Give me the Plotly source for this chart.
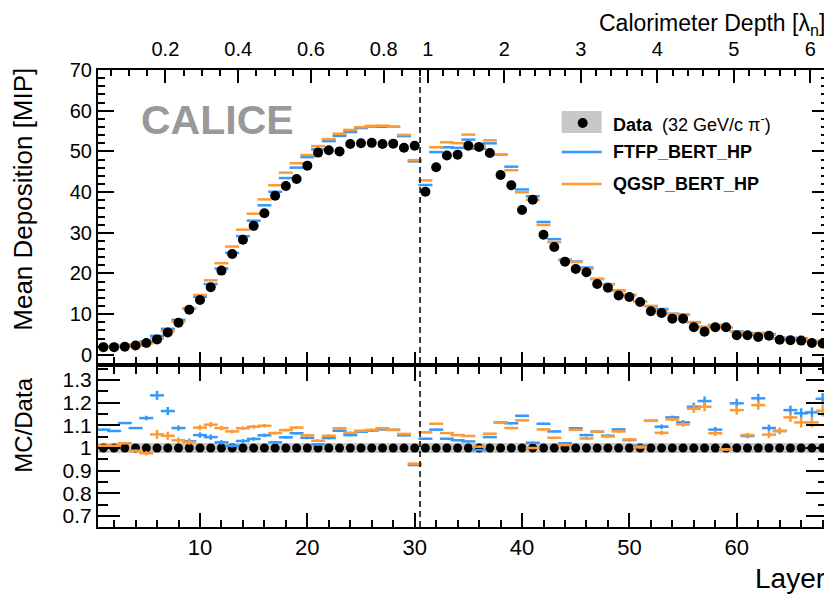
import plotly.graph_objects as go

# layer numbers and measured / simulated values
layers = list(range(1, 69))

data_mip = [1.9, 1.9, 2.0, 2.3, 2.9, 3.8, 5.5, 7.9, 11.1, 13.5,
            16.6, 20.7, 24.8, 28.3, 31.7, 34.8, 39.1, 41.5, 43.2, 46.5,
            49.7, 50.3, 50.0, 51.8, 52.0, 52.1, 51.8, 51.9, 50.9, 51.4,
            40.1, 46.1, 49.0, 49.2, 51.4, 51.1, 49.6, 44.2, 41.7, 35.6,
            38.1, 29.5, 26.5, 22.9, 21.1, 20.3, 17.4, 16.5, 14.6, 14.2,
            13.0, 10.7, 10.3, 8.9, 8.9, 6.8, 5.7, 6.8, 6.8, 4.8,
            4.8, 4.4, 4.7, 3.7, 3.6, 3.5, 2.9, 2.8]

ratio_ftfp = [1.081, 1.075, 1.110, 1.088, 1.132, 1.232, 1.163, 1.088, 1.030, 1.057,
              1.048, 1.025, 1.010, 1.031, 1.040, 1.056, 1.025, 1.047, 1.065, 1.045,
              1.016, 1.044, 1.076, 1.057, 1.072, 1.077, 1.082, 1.080, 1.056, 0.925,
              1.041, 1.081, 1.041, 1.034, 1.029, 0.991, 1.048, 1.113, 1.109, 1.142,
              1.023, 1.107, 1.073, 1.021, 1.087, 1.057, 1.072, 1.054, 1.082, 1.035,
              1.009, 1.120, 1.094, 1.135, 1.113, 1.182, 1.207, 1.081, 0.994, 1.197,
              1.053, 1.219, 1.088, 1.075, 1.167, 1.153, 1.157, 1.217]

ratio_qgsp = [1.010, 1.010, 1.021, 0.988, 0.977, 1.060, 1.054, 1.034, 1.026, 1.090,
              1.103, 1.088, 1.073, 1.087, 1.094, 1.098, 1.066, 1.079, 1.090, 1.056,
              1.032, 1.054, 1.087, 1.067, 1.076, 1.080, 1.087, 1.080, 1.062, 0.931,
              1.069, 1.107, 1.066, 1.057, 1.053, 1.006, 1.063, 1.113, 1.088, 1.122,
              1.000, 1.082, 1.045, 1.013, 1.080, 1.042, 1.072, 1.051, 1.073, 1.038,
              1.003, 1.120, 1.067, 1.126, 1.104, 1.173, 1.182, 1.065, 0.994, 1.167,
              1.057, 1.189, 1.059, 1.075, 1.135, 1.113, 1.113, 1.164]

# statistical uncertainty of the MC ratio (roughly read off the crosses)
mc_err = [0.004, 0.004, 0.004, 0.004, 0.010, 0.020, 0.018, 0.012, 0.012, 0.012,
          0.012, 0.010, 0.008, 0.008, 0.008, 0.008, 0.006, 0.006, 0.006, 0.006,
          0.006, 0.006, 0.005, 0.005, 0.005, 0.005, 0.005, 0.005, 0.005, 0.005,
          0.004, 0.004, 0.004, 0.004, 0.004, 0.004, 0.004, 0.005, 0.005, 0.005,
          0.005, 0.005, 0.005, 0.005, 0.005, 0.006, 0.006, 0.006, 0.006, 0.006,
          0.006, 0.004, 0.010, 0.008, 0.010, 0.018, 0.020, 0.012, 0.006, 0.020,
          0.010, 0.020, 0.015, 0.014, 0.020, 0.022, 0.022, 0.025]
data_band = 0.02

# calorimeter depth axis (top): lambda labels
lam_major = [0.2, 0.4, 0.6, 0.8, 1, 2, 3, 4, 5, 6]
lam_labels = ["0.2", "0.4", "0.6", "0.8", "1", "2", "3", "4", "5", "6"]
lam_minor_ecal = [0.05 * i for i in range(1, 19)]
lam_minor_hcal = [1 + 0.2 * i for i in range(1, 27)]
ecal_end_layer, ecal_end_lam, hcal_layers_per_lam = 30.5, 0.9, 7.13


def lam_to_layer(lam):
    if lam <= ecal_end_lam:
        return lam * ecal_end_layer / ecal_end_lam
    return ecal_end_layer + (lam - ecal_end_lam) * hcal_layers_per_lam


mc_ftfp = [d * r for d, r in zip(data_mip, ratio_ftfp)]
mc_qgsp = [d * r for d, r in zip(data_mip, ratio_qgsp)]

BLUE = "#3399ff"
ORANGE = "#ff9933"
FONT = "Liberation Sans, Arial, sans-serif"

fig = go.Figure()

# upper panel
for vals, col in [(mc_ftfp, BLUE), (mc_qgsp, ORANGE)]:
    fig.add_trace(go.Scatter(x=layers, y=vals, mode="markers", xaxis="x", yaxis="y",
                             marker=dict(symbol="line-ew", size=10, color=col,
                                         line=dict(color=col, width=2.5))))
fig.add_trace(go.Scatter(x=layers, y=data_mip, mode="markers", xaxis="x", yaxis="y",
                         marker=dict(size=10, color="black")))
# empty trace so the top (depth) axis gets drawn
fig.add_trace(go.Scatter(x=[layers[0]], y=[data_mip[0]], mode="markers", xaxis="x3", yaxis="y",
                         marker=dict(size=1, opacity=0), hoverinfo="skip"))

# ratio panel
fig.add_trace(go.Bar(x=layers, y=[2 * data_band] * len(layers), base=[1 - data_band] * len(layers),
                     width=1, xaxis="x2", yaxis="y2",
                     marker=dict(color="#c8c8c8", line=dict(width=0))))
fig.add_trace(go.Scatter(x=layers, y=[1] * len(layers), mode="markers", xaxis="x2", yaxis="y2",
                         marker=dict(size=9, color="black")))
for vals, col in [(ratio_ftfp, BLUE), (ratio_qgsp, ORANGE)]:
    fig.add_trace(go.Scatter(x=layers, y=vals, mode="markers", xaxis="x2", yaxis="y2",
                             marker=dict(symbol="line-ew", size=10, color=col,
                                         line=dict(color=col, width=2.5)),
                             error_y=dict(type="data", array=mc_err, color=col,
                                          thickness=2.5, width=0)))

axis_common = dict(showline=True, linecolor="black", linewidth=2, showgrid=False,
                   zeroline=False, ticks="inside", tickcolor="black", tickwidth=1.5)

# the page adds an 8px body margin, so the figure is 8px smaller and shifted
OFF = 8
W, H = 832 - OFF, 594 - OFF
L, R, T, B = 98 - OFF, 2, 70 - OFF, 67


def px(x):
    return (x - OFF - L) / (W - L - R)


def py(y):
    return (H - B - (y - OFF)) / (H - T - B)


fig.update_layout(
    width=W, height=H, margin=dict(l=L, r=R, t=T, b=B),
    paper_bgcolor="white", plot_bgcolor="white", showlegend=False,
    font=dict(family=FONT, color="black", size=20), bargap=0,
    xaxis=dict(**axis_common, domain=[0, 1], anchor="y", range=[0.5, 68.5],
               tick0=0, dtick=10, ticklen=11, showticklabels=False,
               minor=dict(ticks="inside", dtick=2, ticklen=6, tickcolor="black", tickwidth=1.5)),
    xaxis3=dict(**axis_common, overlaying="x", anchor="y", side="top", range=[0.5, 68.5],
                tickmode="array", tickvals=[lam_to_layer(v) for v in lam_major],
                ticktext=lam_labels, ticklen=13, tickfont=dict(size=20), ticklabelstandoff=4,
                minor=dict(ticks="inside", tickmode="array",
                           tickvals=[lam_to_layer(v) for v in lam_minor_ecal + lam_minor_hcal],
                           ticklen=6, tickcolor="black", tickwidth=1.5)),
    yaxis=dict(**axis_common, domain=[py(363), 1], anchor="x", range=[-2, 70],
               tick0=0, dtick=10, ticklen=16, mirror="ticks", tickfont=dict(size=20),
               minor=dict(ticks="inside", dtick=2, ticklen=7, tickcolor="black", tickwidth=1.5)),
    xaxis2=dict(**axis_common, domain=[0, 1], anchor="y2", range=[0.5, 68.5],
                tick0=0, dtick=10, ticklen=14, mirror="ticks", tickfont=dict(size=22),
                minor=dict(ticks="inside", dtick=2, ticklen=7, tickcolor="black", tickwidth=1.5)),
    yaxis2=dict(**axis_common, domain=[0, py(367)], anchor="x2", range=[0.652, 1.357],
                tick0=0.7, dtick=0.1, ticklen=22, mirror="ticks", tickfont=dict(size=21),
                minor=dict(ticks="inside", dtick=0.05, ticklen=10, tickcolor="black", tickwidth=1.5)),
)

# ECAL / HCAL boundary
for xr, yr in [("x", "y domain"), ("x2", "y2 domain")]:
    fig.add_shape(type="line", xref=xr, yref=yr, x0=ecal_end_layer, x1=ecal_end_layer, y0=0, y1=1,
                  line=dict(color="black", width=1.5, dash="6px,4px"))

# hand-made legend
fig.add_shape(type="rect", xref="paper", yref="paper", x0=px(563), x1=px(603), y0=py(133), y1=py(111),
              fillcolor="#c8c8c8", line=dict(width=0))
fig.add_shape(type="circle", xref="paper", yref="paper", x0=px(579), x1=px(589), y0=py(128), y1=py(118),
              fillcolor="black", line=dict(width=0))
fig.add_shape(type="line", xref="paper", yref="paper", x0=px(563), x1=px(603), y0=py(152), y1=py(152),
              line=dict(color=BLUE, width=2.5))
fig.add_shape(type="line", xref="paper", yref="paper", x0=px(563), x1=px(603), y0=py(184), y1=py(184),
              line=dict(color=ORANGE, width=2.5))

annots = [
    dict(text="<b>Data</b>  (32 GeV/c \u03c0<sup>-</sup>)", x=px(612), y=py(123), xanchor="left",
         yanchor="middle", font=dict(size=18)),
    dict(text="<b>FTFP_BERT_HP</b>", x=px(612), y=py(152), xanchor="left", yanchor="middle",
         font=dict(size=18)),
    dict(text="<b>QGSP_BERT_HP</b>", x=px(612), y=py(184), xanchor="left", yanchor="middle",
         font=dict(size=18)),
    dict(text="<b>CALICE</b>", x=px(218), y=py(120), xanchor="center", yanchor="middle",
         font=dict(size=41, color="#999999")),
    dict(text="Mean Deposition [MIP]", textangle=-90, x=px(23), y=py(66), xanchor="center",
         yanchor="top", font=dict(size=26)),
    dict(text="MC/Data", textangle=-90, x=px(23), y=py(376), xanchor="center", yanchor="top",
         font=dict(size=24)),
    dict(text="Calorimeter Depth [\u03bb<sub>n</sub>]", x=px(829), y=py(8), xanchor="right",
         yanchor="top", font=dict(size=23)),
    dict(text="Layer", x=px(829), y=py(578), xanchor="right", yanchor="middle",
         font=dict(size=28)),
]
for a in annots:
    fig.add_annotation(xref="paper", yref="paper", showarrow=False, **a)

fig.write_html("out.html")
